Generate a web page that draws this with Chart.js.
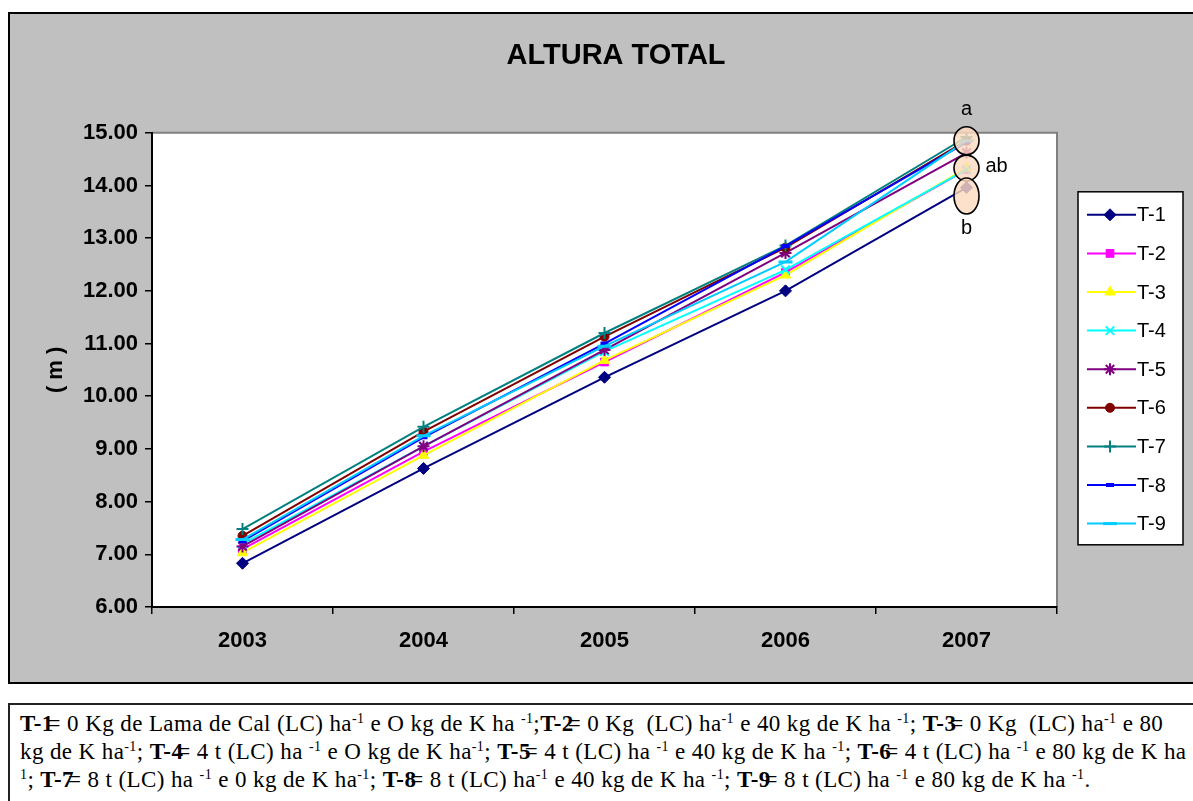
<!DOCTYPE html>
<html lang="pt">
<head>
<meta charset="utf-8">
<title>Altura total</title>
<script src="https://cdn.jsdelivr.net/npm/chart.js@4/dist/chart.umd.min.js"></script>
<style>
  html, body { margin: 0; padding: 0; background: #fff; width: 1193px; height: 801px; overflow: hidden; }
  #frame {
    position: absolute; left: 8px; top: 12px; width: 1216px; height: 672px;
    box-sizing: border-box; border: 2px solid #000; background: #c0c0c0;
  }
  #chart { display: block; }
  #legenda {
    position: absolute; left: 8px; top: 703px; width: 1240px; height: 130px;
    box-sizing: border-box; border: 2px solid #222; background: #fff;
    font-family: "Liberation Serif", "Times New Roman", serif; font-size: 23px;
    letter-spacing: 0.4px; color: #000; padding: 5px 0 0 10px;
  }
  #legenda div { white-space: nowrap; line-height: 28px; height: 28px; }
  #legenda b { font-weight: bold; }
  #legenda .eq { margin-left: -6px; }
  #legenda sup { font-size: 14px; vertical-align: 8px; line-height: 0; }
</style>
</head>
<body>
<div id="frame"><canvas id="chart" width="1212" height="668"></canvas></div>
<div id="legenda">
  <div><b>T-1</b><span class="eq">=</span> 0 Kg de Lama de Cal (LC) ha<sup>-1</sup> e O kg de K ha <sup>-1</sup>;<b>T-2</b><span class="eq">=</span> 0 Kg&nbsp; (LC) ha<sup>-1</sup> e 40 kg de K ha <sup>-1</sup>; <b>T-3</b><span class="eq">=</span> 0 Kg&nbsp; (LC) ha<sup>-1</sup> e 80</div>
  <div>kg de K ha<sup>-1</sup>; <b>T-4</b><span class="eq">=</span> 4 t (LC) ha <sup>-1</sup> e O kg de K ha<sup>-1</sup>; <b>T-5</b><span class="eq">=</span> 4 t (LC) ha <sup>-1</sup> e 40 kg de K ha <sup>-1</sup>; <b>T-6</b><span class="eq">=</span> 4 t (LC) ha <sup>-1</sup> e 80 kg de K ha</div>
  <div><sup>1</sup>; <b>T-7</b><span class="eq">=</span> 8 t (LC) ha <sup>-1</sup> e 0 kg de K ha<sup>-1</sup>; <b>T-8</b><span class="eq">=</span> 8 t (LC) ha<sup>-1</sup> e 40 kg de K ha <sup>-1</sup>; <b>T-9</b><span class="eq">=</span> 8 t (LC) ha <sup>-1</sup> e 80 kg de K ha <sup>-1</sup>.</div>
</div>
<script>
// Anos avaliados
const anos = ['2003', '2004', '2005', '2006', '2007'];

// Altura total média (m) por tratamento
const t1 = [6.83, 8.63, 10.36, 12.00, 13.96];
const t2 = [7.10, 8.95, 10.65, 12.35, 14.30];
const t3 = [7.03, 8.88, 10.68, 12.30, 14.33];
const t4 = [7.20, 9.05, 10.85, 12.40, 14.30];
const t5 = [7.15, 9.05, 10.88, 12.72, 14.62];
const t6 = [7.35, 9.33, 11.13, 12.82, 14.85];
const t7 = [7.48, 9.42, 11.20, 12.86, 14.92];
const t8 = [7.25, 9.22, 11.00, 12.85, 14.82];
const t9 = [7.28, 9.25, 10.95, 12.55, 14.85];

const nomes = ['T-1', 'T-2', 'T-3', 'T-4', 'T-5', 'T-6', 'T-7', 'T-8', 'T-9'];
const series = [t1, t2, t3, t4, t5, t6, t7, t8, t9];

// Eixo Y
const yMin = 6;
const yMax = 15;
const yPasso = 1;

// Grupos de comparação de médias em 2007 (letras e centro de cada grupo, em m)
const grupoLetras = ['a', 'ab', 'b'];
const grupoCentros = [14.85, 14.33, 13.80];

const cores = ['#000080', '#ff00ff', '#ffff00', '#00ffff', '#800080', '#800000', '#008080', '#0000ff', '#00ccff'];
const estilos = [
  { pointStyle: 'rectRot', radius: 6, bw: 1 },
  { pointStyle: 'rect', radius: 5.5, bw: 1 },
  { pointStyle: 'triangle', radius: 6, bw: 1 },
  { pointStyle: 'crossRot', radius: 6, bw: 2 },
  { pointStyle: 'star', radius: 6, bw: 2 },
  { pointStyle: 'circle', radius: 4.5, bw: 1 },
  { pointStyle: 'cross', radius: 6, bw: 2 },
  { pointStyle: 'line', radius: 4, bw: 4 },
  { pointStyle: 'line', radius: 7, bw: 3 }
];

const datasets = series.map((dados, i) => ({
  label: nomes[i],
  data: dados,
  yAxisID: 'y',
  borderColor: cores[i],
  backgroundColor: cores[i],
  borderWidth: 2,
  pointStyle: estilos[i].pointStyle,
  pointRadius: estilos[i].radius,
  pointBorderWidth: estilos[i].bw,
  pointBackgroundColor: cores[i],
  pointBorderColor: cores[i],
  tension: 0,
  order: series.length - i
}));

// Fundo branco da área de plotagem com borda cinza em cima e à direita
const areaPlot = {
  id: 'areaPlot',
  beforeDraw(chart) {
    const { ctx, chartArea: a } = chart;
    ctx.save();
    ctx.fillStyle = '#ffffff';
    ctx.fillRect(a.left, a.top, a.right - a.left, a.bottom - a.top);
    ctx.strokeStyle = '#808080';
    ctx.lineWidth = 2;
    ctx.beginPath();
    ctx.moveTo(a.left, a.top);
    ctx.lineTo(a.right, a.top);
    ctx.lineTo(a.right, a.bottom);
    ctx.stroke();
    ctx.restore();
  }
};

// Elipses e letras dos grupos de médias em 2007
const grupos = {
  id: 'grupos',
  afterDatasetsDraw(chart) {
    const { ctx } = chart;
    const xs = chart.scales.x, ys = chart.scales.y;
    const x = xs.getPixelForValue(anos.length - 1);
    ctx.save();
    ctx.lineWidth = 1.6;
    ctx.strokeStyle = '#000';
    ctx.fillStyle = 'rgba(252, 218, 192, 0.82)';
    const raioY = [14, 13, 18];
    grupoCentros.forEach((v, i) => {
      const y = ys.getPixelForValue(v);
      ctx.beginPath();
      ctx.ellipse(x, y, 12.5, raioY[i], 0, 0, Math.PI * 2);
      ctx.fill();
      ctx.stroke();
    });
    ctx.fillStyle = '#000';
    ctx.font = '20px "Liberation Sans", Arial, sans-serif';
    ctx.textBaseline = 'middle';
    ctx.textAlign = 'center';
    const ya = ys.getPixelForValue(grupoCentros[0]);
    ctx.fillText(grupoLetras[0], x, ya - 31);
    ctx.textAlign = 'left';
    ctx.fillText(grupoLetras[1], x + 19, ys.getPixelForValue(grupoCentros[1]) - 2);
    ctx.textAlign = 'center';
    ctx.fillText(grupoLetras[2], x, ys.getPixelForValue(grupoCentros[2]) + 32);
    ctx.restore();
  }
};

// Legenda em caixa à direita, com linha e marcador de cada série
const legendaCaixa = {
  id: 'legendaCaixa',
  afterDraw(chart) {
    const { ctx, chartArea: a } = chart;
    const left = a.right + 21, top = a.top + 59, w = 105, h = 353;
    ctx.save();
    ctx.fillStyle = '#fff';
    ctx.fillRect(left, top, w, h);
    ctx.strokeStyle = '#000';
    ctx.lineWidth = 1.5;
    ctx.strokeRect(left, top, w, h);
    ctx.font = '20px "Liberation Sans", Arial, sans-serif';
    ctx.textBaseline = 'middle';
    ctx.textAlign = 'left';
    chart.data.datasets.forEach((ds, i) => {
      const y = top + 23 + i * 38.6;
      ctx.strokeStyle = ds.borderColor;
      ctx.lineWidth = 2;
      ctx.beginPath();
      ctx.moveTo(left + 9, y);
      ctx.lineTo(left + 58, y);
      ctx.stroke();
      ctx.fillStyle = ds.pointBackgroundColor;
      ctx.strokeStyle = ds.pointBorderColor;
      ctx.lineWidth = ds.pointBorderWidth;
      Chart.helpers.drawPoint(ctx, {
        pointStyle: ds.pointStyle, radius: ds.pointRadius, rotation: 0, borderWidth: ds.pointBorderWidth
      }, left + 32, y);
      ctx.fillStyle = '#000';
      ctx.fillText(ds.label, left + 59, y + 1);
    });
    ctx.restore();
  }
};

const fonteEixo = { family: '"Liberation Sans", Arial, sans-serif', size: 22, weight: 'bold' };

new Chart(document.getElementById('chart'), {
  type: 'line',
  data: { labels: anos, datasets },
  plugins: [areaPlot, grupos, legendaCaixa],
  options: {
    responsive: false,
    animation: false,
    layout: { padding: 0 },
    plugins: {
      legend: { display: false },
      tooltip: { enabled: false },
      title: {
        display: true,
        text: 'ALTURA TOTAL',
        color: '#000',
        font: { family: '"Liberation Sans", Arial, sans-serif', size: 29, weight: 'bold' },
        padding: { top: 25, bottom: 59 }
      }
    },
    scales: {
      x: {
        offset: true,
        afterFit(scale) { scale.height = 75; },
        grid: { display: true, drawOnChartArea: false, offset: true, tickLength: 7, color: '#000', lineWidth: 1.5 },
        border: { display: true, color: '#000', width: 2 },
        ticks: { color: '#000', padding: 14, font: fonteEixo }
      },
      y: {
        position: 'left',
        min: yMin, max: yMax,
        afterFit(scale) { scale.width = 142; },
        grid: { display: true, drawOnChartArea: false, tickLength: 7, color: '#000', lineWidth: 1.5 },
        border: { display: true, color: '#000', width: 2 },
        ticks: {
          stepSize: yPasso, color: '#000', padding: 7,
          callback: v => Number(v).toFixed(2),
          font: fonteEixo
        },
        title: {
          display: true, text: '( m )', color: '#000',
          padding: { top: 33, bottom: 0 },
          font: fonteEixo
        }
      },
      // espaço reservado à direita para a caixa de legenda
      legendaEspaco: {
        type: 'linear',
        position: 'right',
        min: yMin, max: yMax,
        afterFit(scale) { scale.width = 165; },
        grid: { display: false },
        border: { display: false },
        ticks: { display: false }
      }
    }
  }
});
</script>
</body>
</html>
